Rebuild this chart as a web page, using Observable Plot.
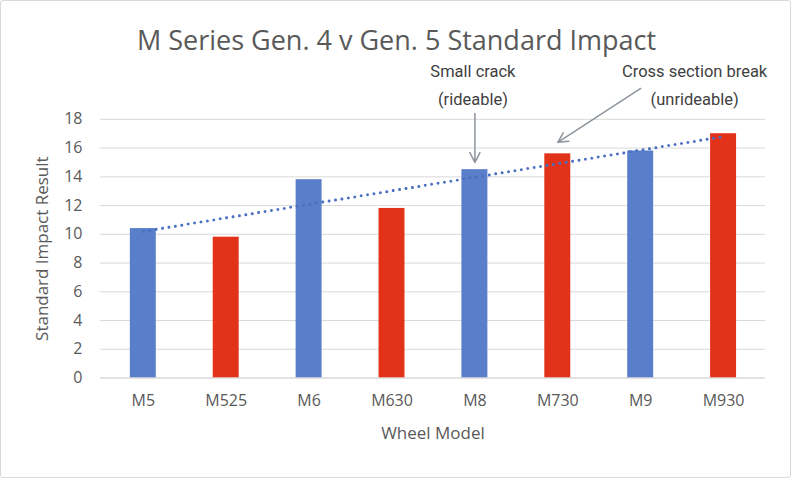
<!DOCTYPE html>
<html><head><meta charset="utf-8">
<script src="https://cdn.jsdelivr.net/npm/d3@7"></script>
<script src="https://cdn.jsdelivr.net/npm/@observablehq/plot@0.6"></script>
<style>
html,body{margin:0;padding:0;background:#fff;}
#wrap{position:relative;width:791px;height:478px;box-sizing:border-box;border:1px solid #d9d9d9;border-radius:3px;overflow:hidden;}
#title{position:absolute;left:0;top:21px;width:791px;text-align:center;font-family:"Open Sans",sans-serif;font-size:27px;line-height:36px;color:#595959;z-index:2;}
#chart{position:absolute;left:-1px;top:-1px;}
</style>
</head><body>
<div id="wrap"><div id="title">M Series Gen. 4 v Gen. 5 Standard Impact</div><div id="chart"></div></div>
<script>
const models = ["M5","M525","M6","M630","M8","M730","M9","M930"];
const values = [10.4, 9.8, 13.8, 11.8, 14.5, 15.6, 15.8, 17.0];
const generations = ["Gen. 4","Gen. 5","Gen. 4","Gen. 5","Gen. 4","Gen. 5","Gen. 4","Gen. 5"];
const yTicks = [0,2,4,6,8,10,12,14,16,18];
const genNames = ["Gen. 4","Gen. 5"];
const genColors = ["#5a7fca","#e2321a"];
// dotted trendline endpoints
const trendModels = ["M5","M930"];
const trendValues = [10.2, 16.8];

const data = models.map((m,i)=>({model:m, value:values[i], gen:generations[i]}));
const trend = trendModels.map((m,i)=>({model:m, value:trendValues[i]}));

const notes1 = [
  {model:"M8", y:21.3, text:"Small crack"},
  {model:"M8", y:19.4, text:"(rideable)"}
];
const notes2 = [
  {model:"M9", y:21.3, text:"Cross section break"},
  {model:"M9", y:19.35, text:"(unrideable)"}
];
const arrows = [
  {x1:"M8", y1:18.4, x2:"M8", y2:15.0},
  {x1:"M9", y1:20.15, x2:"M730", y2:16.4}
];

const chart = Plot.plot({
  width: 791, height: 478,
  marginTop: 119, marginBottom: 100, marginLeft: 100, marginRight: 25,
  style: {fontFamily: "'Open Sans', sans-serif", fontSize: "16px", color: "#595959", background: "transparent", overflow: "visible"},
  x: {domain: models, paddingInner: 0.69, paddingOuter: 0.345},
  y: {domain: [0, 18]},
  color: {domain: genNames, range: genColors},
  marks: [
    Plot.gridY(yTicks, {stroke: "#d9d9d9", strokeOpacity: 1, strokeWidth: 1}),
    Plot.axisY(yTicks, {tickSize: 0, tickPadding: 18, fontSize: 16, fill: "#595959", label: null}),
    Plot.axisX({tickSize: 0, tickPadding: 17, fontSize: 16, fill: "#595959", label: null}),
    Plot.text(["Standard Impact Result"], {frameAnchor: "left", textAnchor: "middle", dx: -58, rotate: -90, fontSize: 17, fill: "#595959"}),
    Plot.text(["Wheel Model"], {frameAnchor: "bottom", dy: 61, fontSize: 17, fill: "#595959"}),
    Plot.barY(data, {x: "model", y: "value", fill: "gen"}),
    Plot.ruleY([0], {stroke: "#d9d9d9"}),
    Plot.line(trend, {x: "model", y: "value", stroke: "#4a6ec0", strokeWidth: 3, strokeDasharray: "0 6.5", strokeLinecap: "round"}),
    Plot.arrow(arrows, {x1: "x1", y1: "y1", x2: "x2", y2: "y2", stroke: "#8c949e", strokeWidth: 1.5, headLength: 11, headAngle: 55}),
    Plot.text(notes1, {x: "model", y: "y", text: "text", dx: -2, fontFamily: "Roboto, sans-serif", fontSize: 16.5, fill: "#404040"}),
    Plot.text(notes2, {x: "model", y: "y", text: "text", dx: 54, fontFamily: "Roboto, sans-serif", fontSize: 16.5, fill: "#404040"})
  ]
});
document.getElementById("chart").appendChild(chart);
</script>
</body></html>
